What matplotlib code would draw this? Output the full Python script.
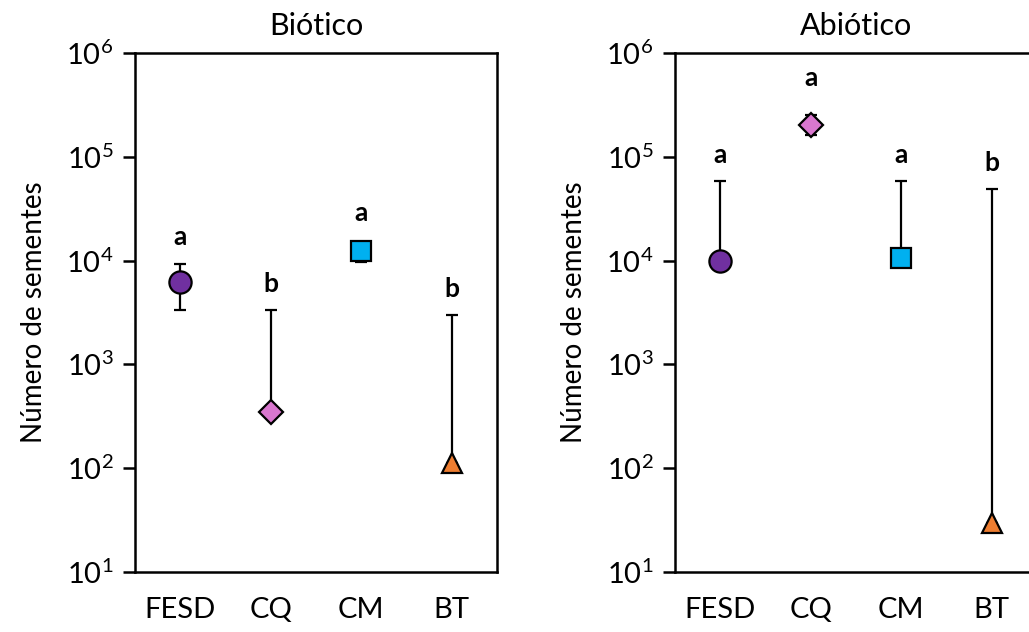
import numpy as np
import matplotlib
matplotlib.use("Agg")
import matplotlib.pyplot as plt
from matplotlib.ticker import FuncFormatter, NullLocator

plt.rcParams['font.family'] = ['Lato', 'DejaVu Sans']
plt.rcParams['mathtext.fontset'] = 'custom'
plt.rcParams['mathtext.rm'] = 'Lato'
plt.rcParams['mathtext.it'] = 'Lato:italic'

categories = ["FESD", "CQ", "CM", "BT"]
markers = ["o", "D", "s", "^"]
colors = ["#7030A0", "#D977CF", "#00B0F0", "#ED7D31"]

# Biótico
bio_mean = [6200, 348, 12400, 112]
bio_low = [3340, 348, 9700, 112]
bio_high = [9300, 3340, 12400, 2990]
bio_letters = ["a", "b", "a", "b"]

# Abiótico
abio_mean = [10000, 202000, 10600, 29.6]
abio_low = [10000, 162000, 10600, 29.6]
abio_high = [58500, 252000, 58500, 49000]
abio_letters = ["a", "a", "a", "b"]

W, H = 1029, 632
fig = plt.figure(figsize=(W / 100, H / 100), dpi=100)


def powfmt(v, pos):
    return r"$\mathdefault{10^{\mathit{%d}}}$" % int(round(np.log10(v)))


def panel(rect, title, mean, low, high, letters):
    ax = fig.add_axes(rect)
    for i in range(len(categories)):
        m = mean[i]
        yerr = [[m - low[i]], [high[i] - m]]
        ax.errorbar(i, m, yerr=yerr, fmt="none", ecolor="black", elinewidth=1.6,
                    capsize=4.5, capthick=1.6, zorder=2)
        ms = 16 if markers[i] == "o" else (12 if markers[i] == "D" else 15)
        ax.plot(i, m, marker=markers[i], ms=ms, mfc=colors[i], mec="black",
                mew=1.6, ls="none", zorder=3)
        off = 19 if high[i] > m * 1.3 else 27
        ax.annotate(letters[i], (i, max(high[i], m)), xytext=(0, off),
                    textcoords="offset points", ha="center", va="center",
                    fontsize=19, fontweight="bold")
    ax.set_yscale("log")
    ax.set_ylim(10, 1e6)
    ax.set_xlim(-0.5, 3.5)
    ax.set_xticks(range(len(categories)))
    ax.set_xticklabels(categories)
    ax.yaxis.set_minor_locator(NullLocator())
    ax.yaxis.set_major_formatter(FuncFormatter(powfmt))
    ax.tick_params(axis="x", length=0, pad=18, labelsize=21)
    ax.tick_params(axis="y", direction="out", length=8.5, width=1.8, labelsize=21, pad=7)
    for s in ax.spines.values():
        s.set_linewidth(1.8)
    ax.set_title(title, fontsize=22, pad=13)
    ax.set_ylabel("Número de sementes", fontsize=20, labelpad=14)
    return ax


bottom = (H - 572) / H
height = (572 - 53) / H
width = 362 / W
panel([135 / W, bottom, width, height], "Biótico", bio_mean, bio_low, bio_high, bio_letters)
panel([675 / W, bottom, width, height], "Abiótico", abio_mean, abio_low, abio_high, abio_letters)

fig.savefig("out.png", dpi=100)
